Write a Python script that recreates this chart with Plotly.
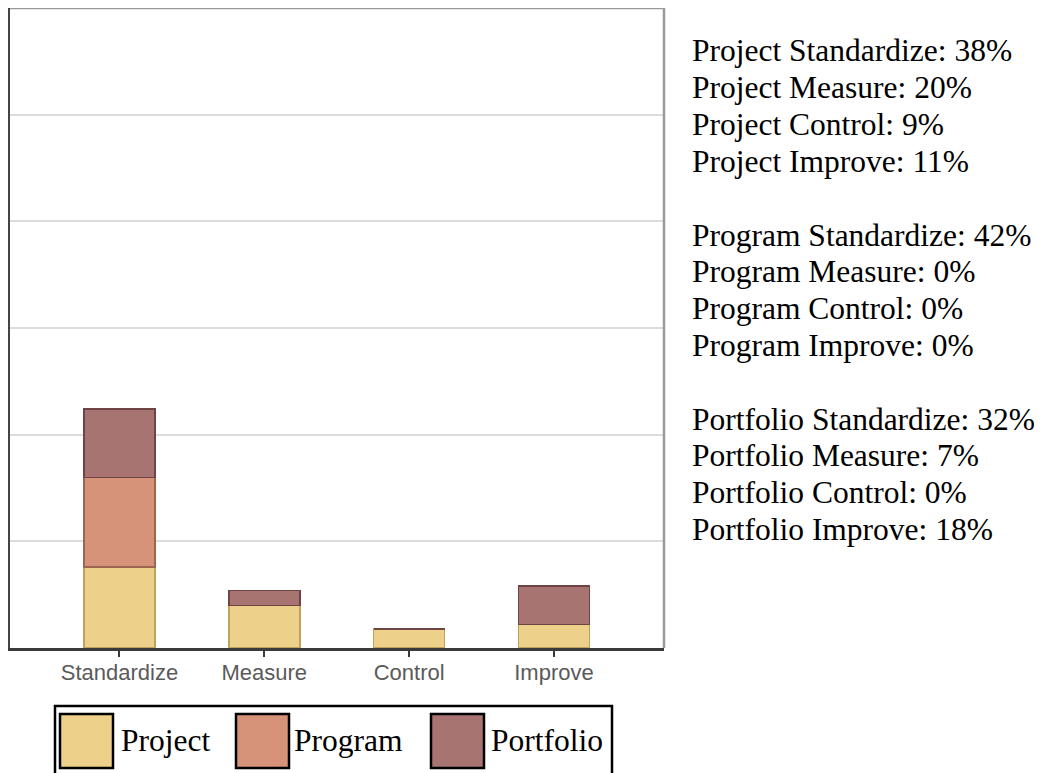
import plotly.graph_objects as go

categories = ["Standardize", "Measure", "Control", "Improve"]
series_names = ["Project", "Program", "Portfolio"]
project_vals = [38, 20, 9, 11]
program_vals = [42, 0, 0, 0]
portfolio_vals = [32, 7, 0, 18]

fill_colors = ["#EDD18B", "#D6937A", "#A87472"]
line_colors = ["#BFA35C", "#9E6650", "#6E4444"]

OFF = 8  # default page body margin
W, H = 1042 - OFF, 773 - OFF
PL, PR, PT, PB = 10, 664, 8, 648  # plot area in page px


def px_x(x):
    return (x - PL) / (PR - PL)


def px_y(y):
    return (PB - y) / (PB - PT)


fig = go.Figure()
all_vals = [project_vals, program_vals, portfolio_vals]
for name, vals, fc, lc in zip(series_names, all_vals, fill_colors, line_colors):
    fig.add_trace(go.Bar(
        x=categories, y=vals, name=name, width=0.49,
        marker=dict(color=fc, line=dict(color=lc, width=1.6)),
        showlegend=False,
    ))

fig.update_layout(
    barmode="stack",
    width=W, height=H, autosize=False,
    margin=dict(l=PL - OFF, r=W - (PR - OFF), t=PT - OFF, b=H - (PB - OFF), pad=0),
    plot_bgcolor="white", paper_bgcolor="white",
    xaxis=dict(
        range=[-0.756, 3.76], showline=True, linecolor="#3a3a3a", linewidth=2.5,
        ticks="outside", ticklen=6, tickwidth=2, tickcolor="#3a3a3a",
        tickfont=dict(family="Liberation Sans, Arial", size=22, color="#5a5a5a"),
        ticklabelstandoff=-3,
        showgrid=False, zeroline=False,
    ),
    yaxis=dict(
        range=[0, 300], dtick=50, showticklabels=False, showline=True,
        linecolor="#444444", linewidth=2.5, gridcolor="#dcdcdc", gridwidth=1.5,
        zeroline=False, ticks="",
    ),
)

# top and right borders of the plot frame
fig.add_shape(type="line", xref="paper", yref="paper", x0=0, x1=1, y0=1, y1=1,
              line=dict(color="#9a9a9a", width=2.5))
fig.add_shape(type="line", xref="paper", yref="paper", x0=1, x1=1, y0=0, y1=1,
              line=dict(color="#9a9a9a", width=2.5))

# custom legend box
fig.add_shape(type="rect", xref="paper", yref="paper",
              x0=px_x(55), x1=px_x(612), y0=px_y(706), y1=px_y(790),
              line=dict(color="black", width=2.5), fillcolor="white")
legend_sq_x = [60, 236, 431]
legend_txt_x = [119, 292, 489]
for i, name in enumerate(series_names):
    fig.add_shape(type="rect", xref="paper", yref="paper",
                  x0=px_x(legend_sq_x[i]), x1=px_x(legend_sq_x[i] + 53),
                  y0=px_y(714), y1=px_y(768),
                  line=dict(color="black", width=2.5), fillcolor=fill_colors[i])
    fig.add_annotation(xref="paper", yref="paper", x=px_x(legend_txt_x[i]), y=px_y(740),
                       text=name, showarrow=False, xanchor="left", yanchor="middle",
                       font=dict(family="Liberation Serif, Times New Roman", size=31.5, color="black"))

# side text built from data
lines = []
for name, vals in zip(series_names, all_vals):
    for c, v in zip(categories, vals):
        lines.append(f"{name} {c}: {v}%")
    lines.append("")
lines = lines[:-1]
for i, t in enumerate(lines):
    if not t:
        continue
    baseline = 61 + i * 36.8
    fig.add_annotation(xref="paper", yref="paper", x=px_x(690), y=px_y(baseline - 10),
                       text=t, showarrow=False, xanchor="left", yanchor="middle",
                       font=dict(family="Liberation Serif, Times New Roman", size=31.5, color="black"))

fig.write_html("out.html")
